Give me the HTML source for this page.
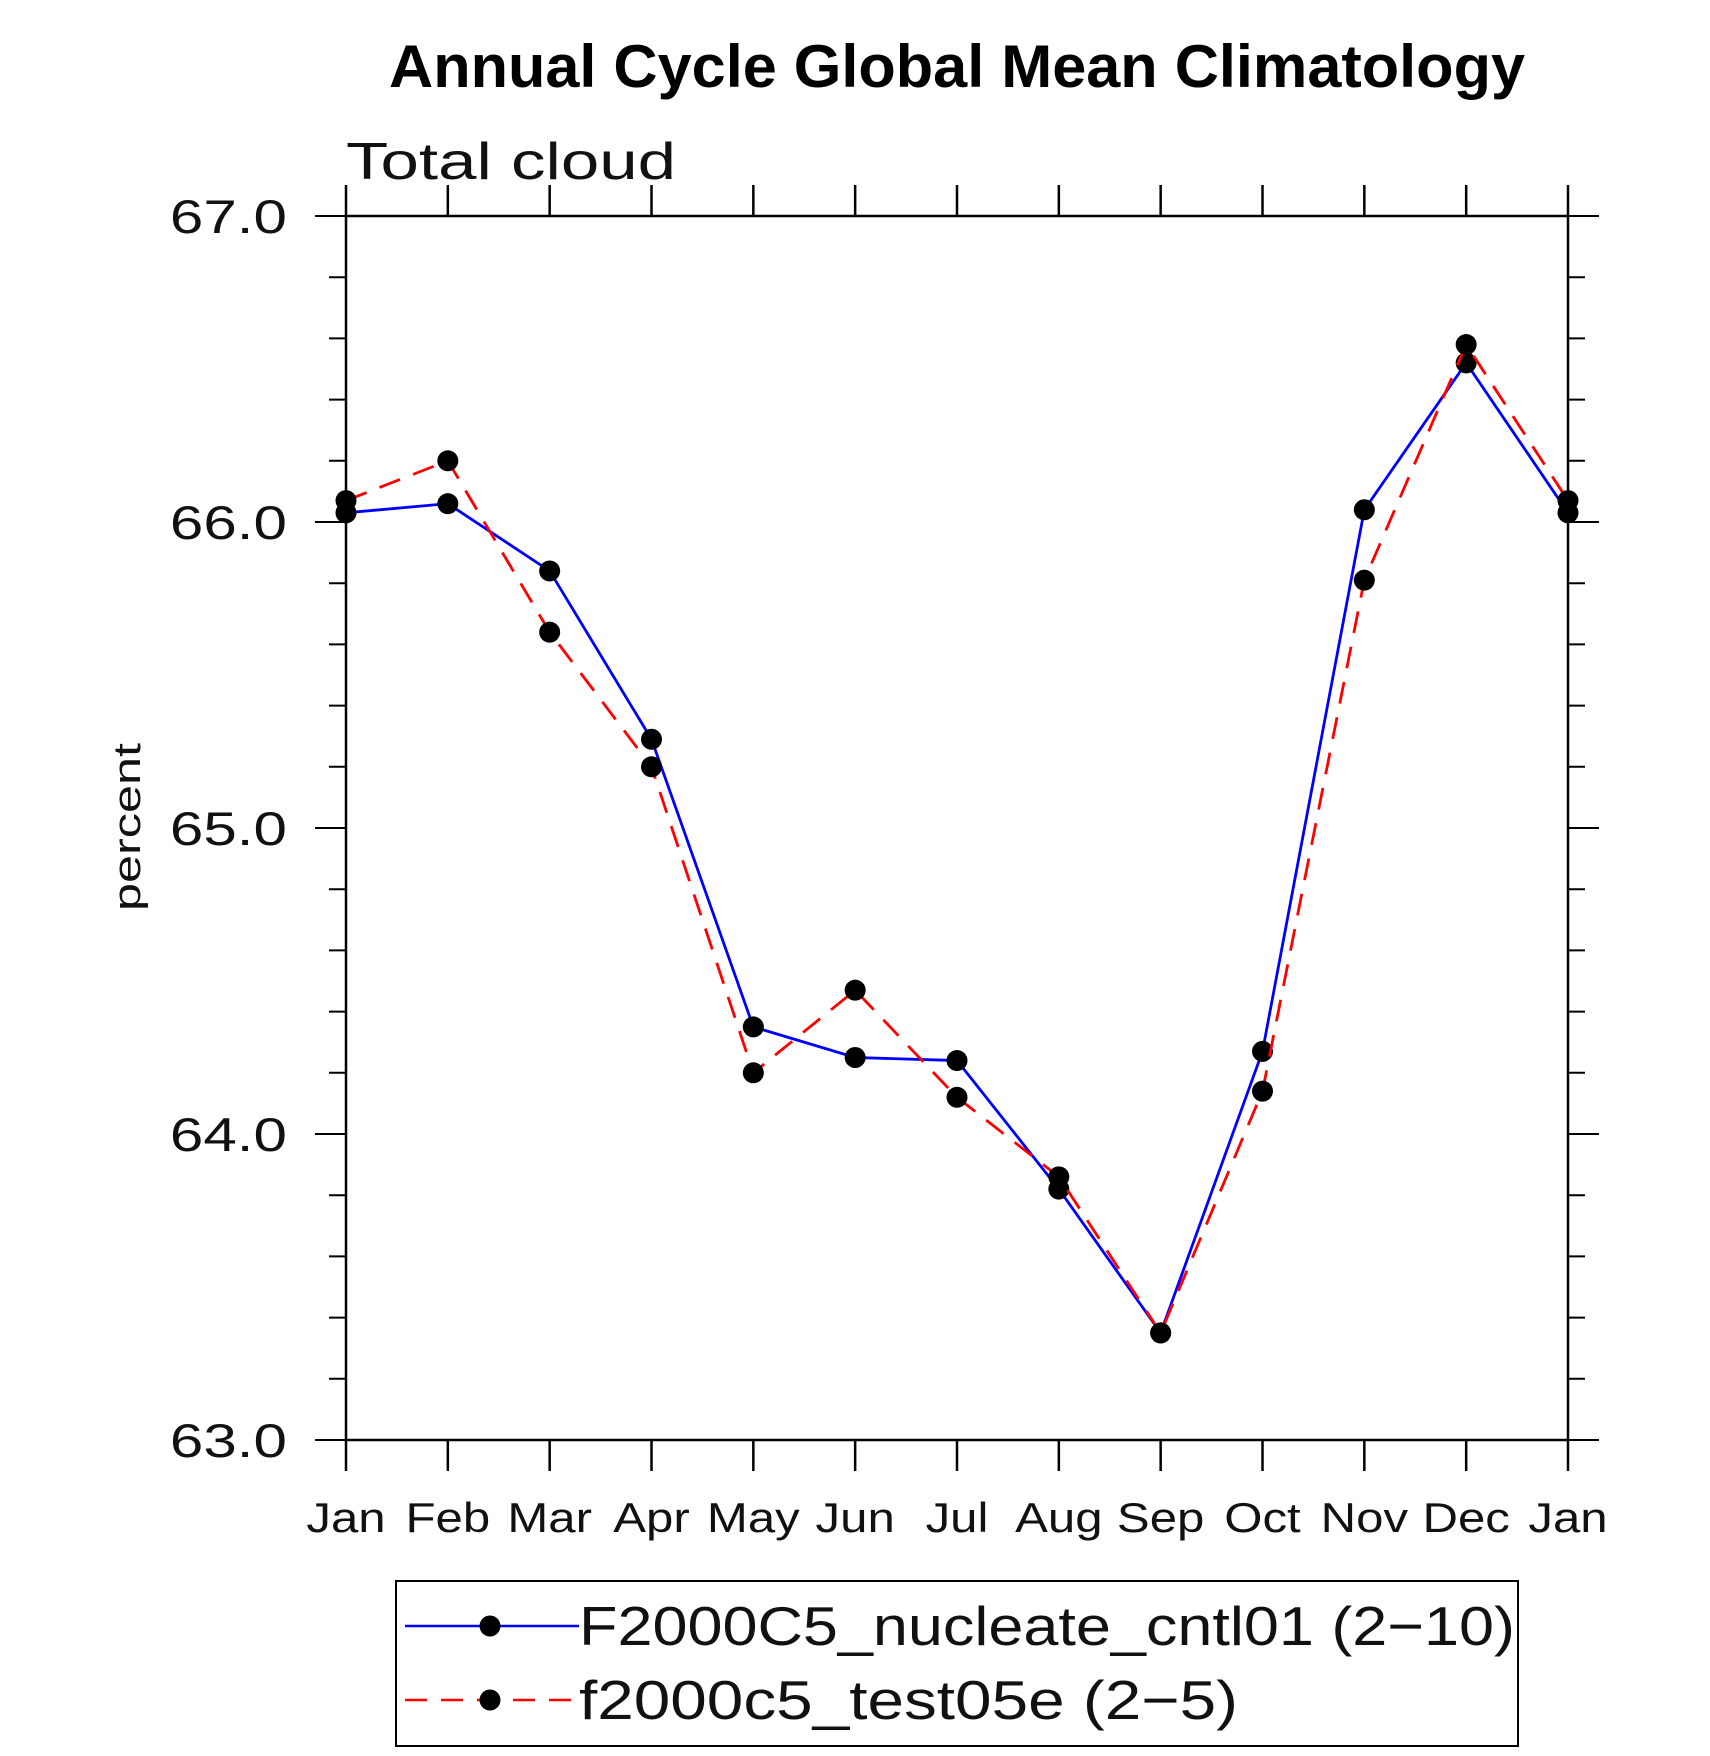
<!DOCTYPE html>
<html><head><meta charset="utf-8"><style>
body{margin:0;background:#fff}
svg text{font-family:"Liberation Sans",sans-serif}
</style></head><body>
<svg id="c" width="1710" height="1751" xmlns="http://www.w3.org/2000/svg">
<text x="957" y="87" text-anchor="middle" font-size="60" font-weight="bold" textLength="1136" lengthAdjust="spacingAndGlyphs">Annual Cycle Global Mean Climatology</text>
<text x="346" y="179" font-size="52" fill="#111" textLength="330" lengthAdjust="spacingAndGlyphs">Total cloud</text>
<text transform="translate(140,827) rotate(-90)" text-anchor="middle" font-size="38" fill="#111" textLength="168" lengthAdjust="spacingAndGlyphs">percent</text>
<g id="axes"></g>
<g id="series"></g>
<g>
<rect x="396" y="1581" width="1122" height="165" fill="none" stroke="#000" stroke-width="2"/>
<g>
<line x1="405" y1="1626" x2="579" y2="1626" stroke="#0000ff" stroke-width="2.5"/>
<circle cx="490" cy="1626" r="10.5" fill="#000"/>
<text x="579" y="1645" font-size="55" fill="#111" textLength="936" lengthAdjust="spacingAndGlyphs">F2000C5_nucleate_cntl01 (2−10)</text>
</g>
<g>
<line x1="405" y1="1700" x2="579" y2="1700" stroke="#ff0000" stroke-width="2.5" stroke-dasharray="22,14"/>
<circle cx="490" cy="1700" r="10.5" fill="#000"/>
<text x="579" y="1719" font-size="55" fill="#111" textLength="659" lengthAdjust="spacingAndGlyphs">f2000c5_test05e (2−5)</text>
</g>
</g>
</svg>
<script>
const months=["Jan","Feb","Mar","Apr","May","Jun","Jul","Aug","Sep","Oct","Nov","Dec","Jan"];
const cntl=[66.03,66.06,65.84,65.29,64.35,64.25,64.24,63.82,63.35,64.27,66.04,66.52,66.03];
const test=[66.07,66.20,65.64,65.20,64.20,64.47,64.12,63.86,63.35,64.14,65.81,66.58,66.07];
const yTicks=[63.0,64.0,65.0,66.0,67.0];
const yMin=63,yMax=67;
const L=346,R=1568,T=216,B=1440;
const NS="http://www.w3.org/2000/svg";
function x(i){return L+(R-L)*i/(months.length-1);}
function y(v){return B-(B-T)*(v-yMin)/(yMax-yMin);}
function mk(tag,attrs,parent){const e=document.createElementNS(NS,tag);for(const k in attrs)e.setAttribute(k,attrs[k]);parent.appendChild(e);return e;}
function stretch(t,f){const w=t.getComputedTextLength();t.setAttribute('textLength',w*f);t.setAttribute('lengthAdjust','spacingAndGlyphs');}
const ax=document.getElementById('axes');
const frame=mk('rect',{x:L,y:T,width:R-L,height:B-T,fill:'none',stroke:'#000','stroke-width':2.5},ax);


months.forEach((m,i)=>{
  const t1=mk('line',{x1:x(i),x2:x(i),y1:B,y2:B+31,stroke:'#000','stroke-width':2.5},ax);
  
  
  const t2=mk('line',{x1:x(i),x2:x(i),y1:T,y2:T-31,stroke:'#000','stroke-width':2.5},ax);
  
  
  const lb=mk('text',{x:x(i),y:1532,'text-anchor':'middle','font-size':42,fill:'#111'},ax);
  lb.textContent=m;
  
  
  stretch(lb,1.17);
});
for(let v=yMin;v<=yMax+1e-9;v+=0.2){
  const major=Math.abs(v-Math.round(v))<1e-6;
  const len=major?31:17;
  const a=mk('line',{x1:L-len,x2:L,y1:y(v),y2:y(v),stroke:'#000','stroke-width':2},ax);
  
  
  const b=mk('line',{x1:R,x2:R+len,y1:y(v),y2:y(v),stroke:'#000','stroke-width':2},ax);
  
  
}
yTicks.forEach(v=>{
  const lb=mk('text',{x:287,y:y(v)+17,'text-anchor':'end','font-size':47,fill:'#111'},ax);
  lb.textContent=v.toFixed(1);
  
  
  stretch(lb,1.28);
});
const sg=document.getElementById('series');
function draw(data,color,dash,name){
  const p=mk('polyline',{points:data.map((v,i)=>x(i)+','+y(v)).join(' '),fill:'none',stroke:color,'stroke-width':2.8},sg);
  if(dash)p.setAttribute('stroke-dasharray',dash);
  
  
  data.forEach((v,i)=>{
    const c=mk('circle',{cx:x(i),cy:y(v),r:10.5,fill:'#000'},sg);
    
    
  });
}
draw(cntl,'#0000ff',null,'cntl');
draw(test,'#ff0000','22,14','test');
</script>
</body></html>
